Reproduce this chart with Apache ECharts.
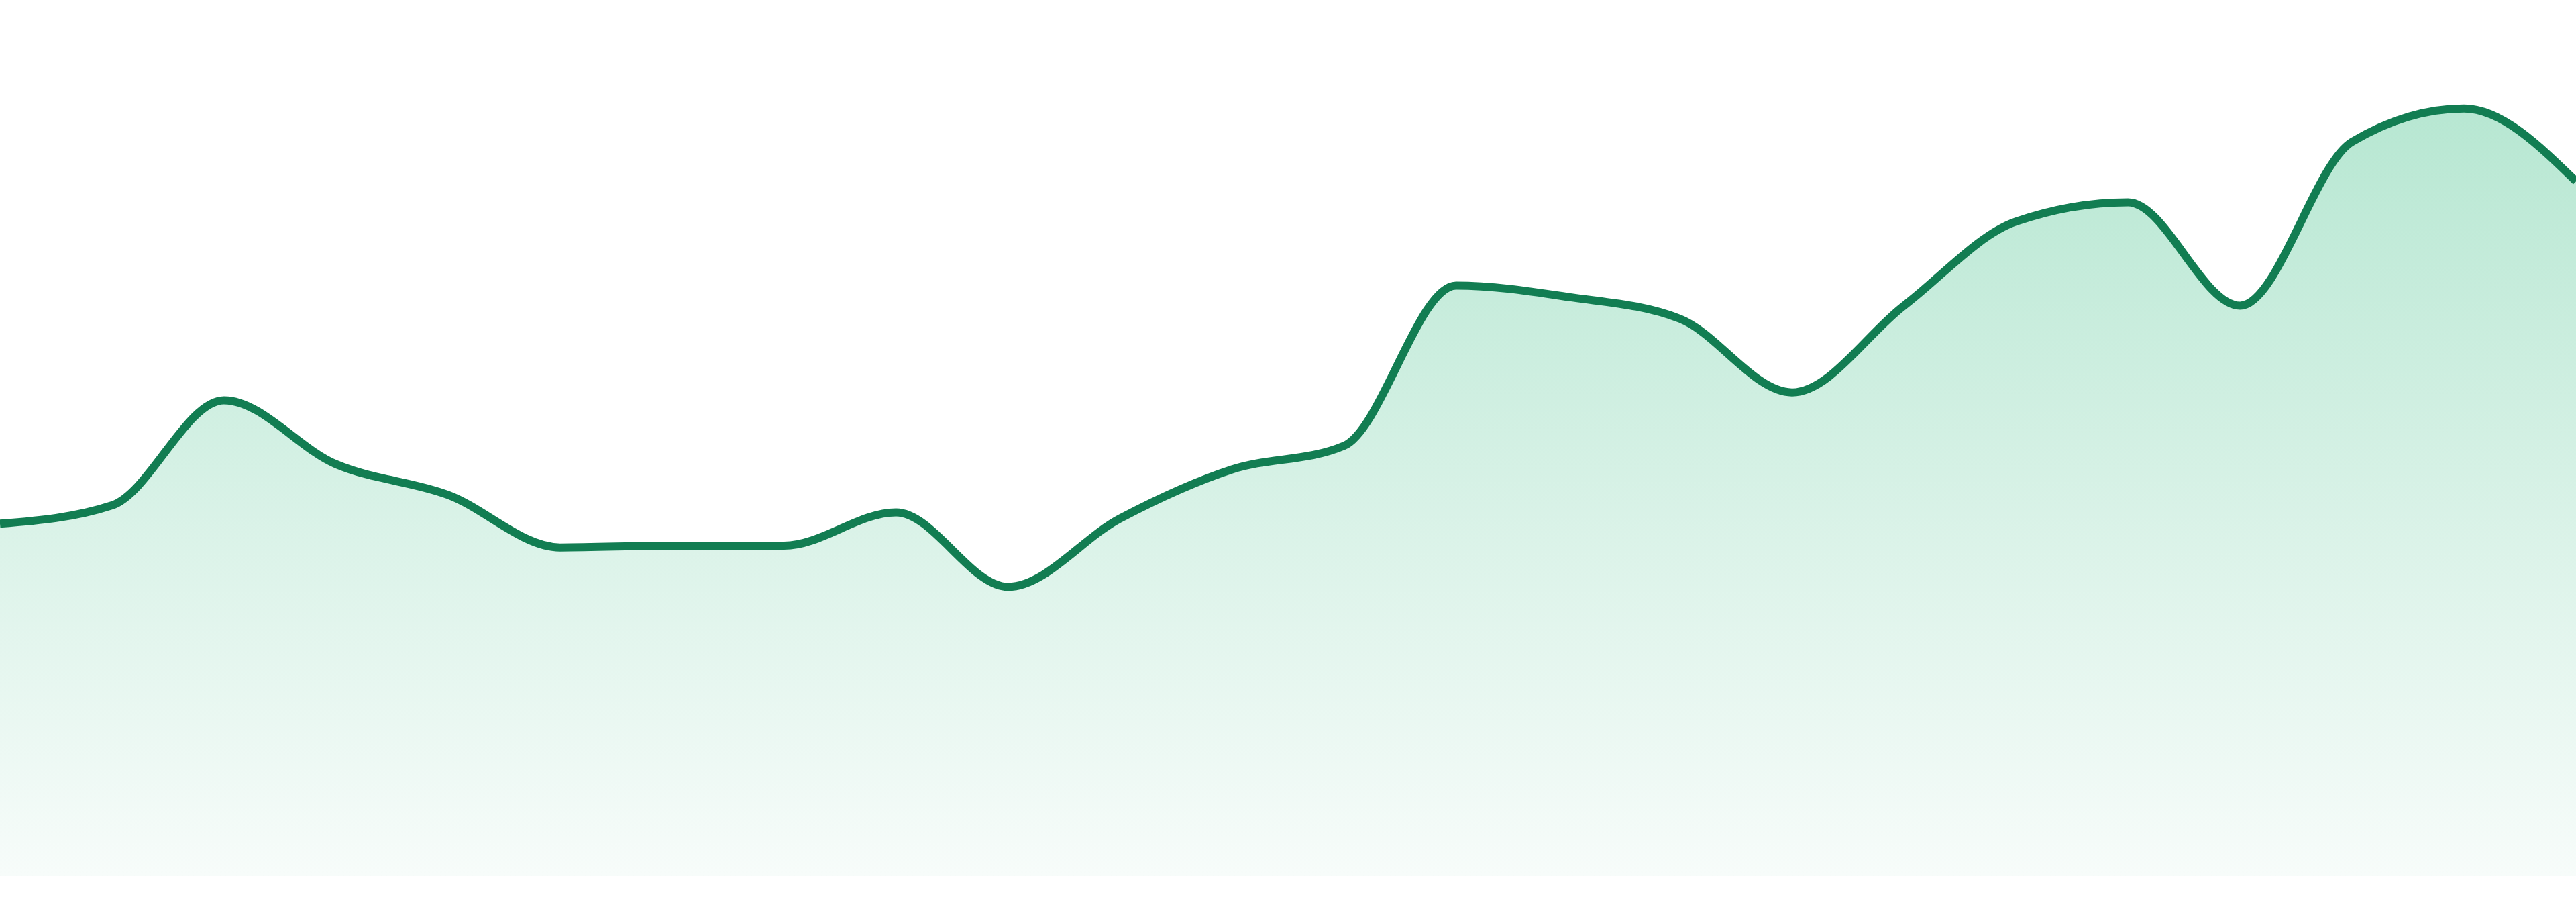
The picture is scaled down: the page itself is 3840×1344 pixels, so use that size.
<!DOCTYPE html>
<html>
<head>
<meta charset="utf-8">
<script src="https://cdn.jsdelivr.net/npm/echarts@6/dist/echarts.min.js"></script>
<style>
html,body{margin:0;padding:0;background:#ffffff;}
#chart{width:3840px;height:1344px;}
</style>
</head>
<body>
<div id="chart"></div>
<script>
const categories = ['1','2','3','4','5','6','7','8','9','10','11','12','13','14','15','16','17','18','19','20','21','22','23','24'];
const values = [40.2, 42.3, 54.3, 47.0, 43.5, 37.5, 37.7, 37.7, 41.5, 33.0, 40.8, 46.4, 49.1, 67.4, 66.1, 63.6, 55.2, 65.1, 74.7, 76.9, 65.1, 83.8, 87.6, 79.3];

// Monotone cubic (monotone-x) path through pixel points
function monotonePath(pts) {
  const n = pts.length;
  const t = new Array(n).fill(0);
  for (let i = 1; i < n - 1; i++) {
    const h0 = pts[i][0] - pts[i - 1][0];
    const h1 = pts[i + 1][0] - pts[i][0];
    const s0 = (pts[i][1] - pts[i - 1][1]) / h0;
    const s1 = (pts[i + 1][1] - pts[i][1]) / h1;
    const p = (s0 * h1 + s1 * h0) / (h0 + h1);
    t[i] = (Math.sign(s0) + Math.sign(s1)) * Math.min(Math.abs(s0), Math.abs(s1), 0.5 * Math.abs(p)) || 0;
  }
  const h = pts[1][0] - pts[0][0];
  t[0] = (3 * (pts[1][1] - pts[0][1]) / h - t[1]) / 2;
  const hn = pts[n - 1][0] - pts[n - 2][0];
  t[n - 1] = (3 * (pts[n - 1][1] - pts[n - 2][1]) / hn - t[n - 2]) / 2;
  let d = 'M' + pts[0][0] + ',' + pts[0][1];
  for (let i = 0; i < n - 1; i++) {
    const dx = (pts[i + 1][0] - pts[i][0]) / 3;
    d += ' C' + (pts[i][0] + dx) + ',' + (pts[i][1] + dx * t[i]) + ' ' +
         (pts[i + 1][0] - dx) + ',' + (pts[i + 1][1] - dx * t[i + 1]) + ' ' +
         pts[i + 1][0] + ',' + pts[i + 1][1];
  }
  return d;
}

const chart = echarts.init(document.getElementById('chart'));
chart.setOption({
  animation: false,
  backgroundColor: '#ffffff',
  grid: { left: 0, right: 0, top: 0, bottom: 39 },
  xAxis: {
    type: 'category',
    data: categories,
    boundaryGap: false,
    show: false
  },
  yAxis: {
    type: 'value',
    min: 0,
    max: 100,
    show: false
  },
  series: [{
    type: 'custom',
    data: values.map((v, i) => [i, v]),
    encode: { x: 0, y: 1 },
    renderItem: function (params, api) {
      if (params.dataIndex !== 0) return null;
      const pts = values.map((v, i) => api.coord([i, v]));
      const base = api.coord([0, 0])[1];
      const lineD = monotonePath(pts);
      const areaD = lineD + ' L' + pts[pts.length - 1][0] + ',' + base + ' L' + pts[0][0] + ',' + base + ' Z';
      return {
        type: 'group',
        children: [
          {
            type: 'path',
            shape: { pathData: areaD },
            style: {
              fill: new echarts.graphic.LinearGradient(0, 0, 0, 1, [
                { offset: 0, color: '#b7e7d2' },
                { offset: 1, color: '#f7fcfa' }
              ]),
              stroke: 'none'
            }
          },
          {
            type: 'path',
            shape: { pathData: lineD },
            style: { fill: 'none', stroke: '#127d52', lineWidth: 12, lineJoin: 'round', lineCap: 'butt' }
          }
        ]
      };
    }
  }]
});
</script>
</body>
</html>
